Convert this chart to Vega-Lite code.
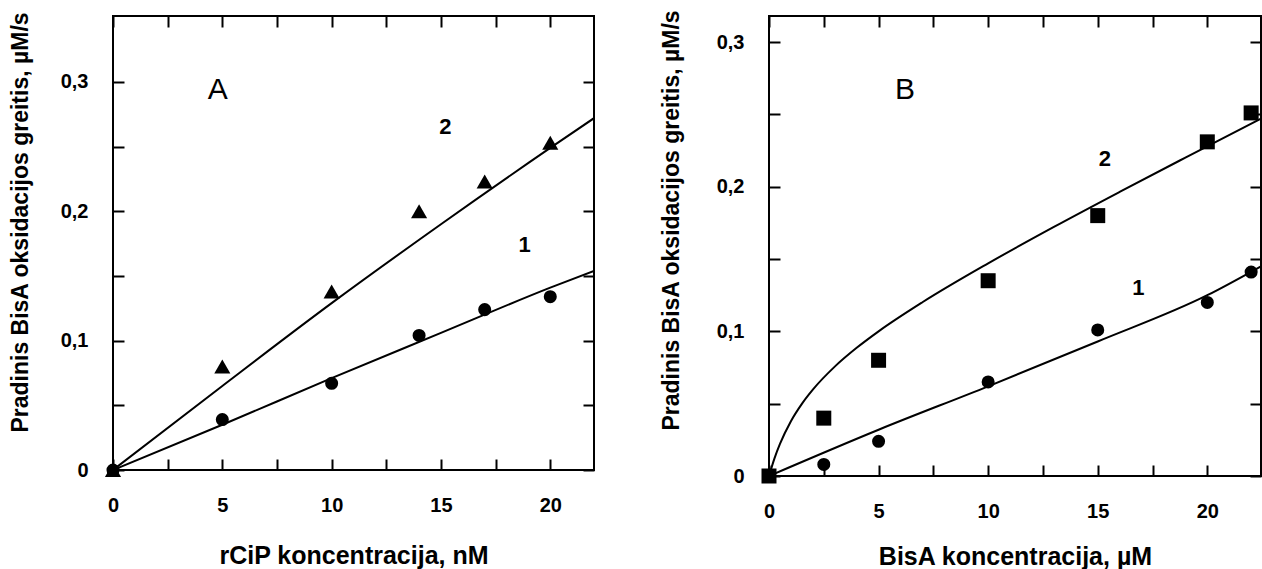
{
  "$schema": "https://vega.github.io/schema/vega-lite/v6.json",
  "padding": {"left": 7, "top": 8, "right": 0, "bottom": 0},
  "spacing": 62,
  "resolve": {"scale": {"shape": "independent", "size": "independent"}},
  "config": {
    "font": "Liberation Sans",
    "view": {"stroke": "black", "strokeWidth": 2},
    "axis": {
      "domain": false, "grid": false,
      "tickColor": "black", "tickWidth": 2, "tickSize": -11,
      "labelFont": "Liberation Sans", "labelFontWeight": "bold", "labelFontSize": 20, "labelColor": "black",
      "titleFont": "Liberation Sans", "titleFontWeight": "bold", "titleFontSize": 23, "titleColor": "black",
      "labelFlush": false, "labelOverlap": false, "labelBound": false
    }
  },
  "hconcat": [
    {
      "width": 481, "height": 454,
      "layer": [
        {
          "data": {"values": [
            {"series": "1", "x": 0, "y": 0},
            {"series": "1", "x": 5, "y": 0.035},
            {"series": "1", "x": 10, "y": 0.071},
            {"series": "1", "x": 15, "y": 0.106},
            {"series": "1", "x": 20, "y": 0.141},
            {"series": "1", "x": 22, "y": 0.154},
            {"series": "2", "x": 0, "y": 0},
            {"series": "2", "x": 5, "y": 0.065},
            {"series": "2", "x": 10, "y": 0.129},
            {"series": "2", "x": 15, "y": 0.19},
            {"series": "2", "x": 20, "y": 0.249},
            {"series": "2", "x": 22, "y": 0.272}
          ]},
          "mark": {"type": "line", "color": "black", "strokeWidth": 2, "interpolate": "monotone", "clip": true},
          "encoding": {
            "x": {"field": "x", "type": "quantitative", "scale": {"domain": [0, 22], "nice": false},
              "axis": {"orient": "top", "labels": false, "title": null, "values": [0, 2.5, 5, 7.5, 10, 12.5, 15, 17.5, 20]}},
            "y": {"field": "y", "type": "quantitative", "scale": {"domain": [0, 0.351], "nice": false},
              "axis": {"orient": "right", "labels": false, "title": null, "values": [0, 0.05, 0.1, 0.15, 0.2, 0.25, 0.3]}},
            "detail": {"field": "series"}
          }
        },
        {
          "data": {"values": [
            {"series": "1", "x": 0, "y": 0},
            {"series": "1", "x": 5, "y": 0.039},
            {"series": "1", "x": 10, "y": 0.067},
            {"series": "1", "x": 14, "y": 0.104},
            {"series": "1", "x": 17, "y": 0.124},
            {"series": "1", "x": 20, "y": 0.134},
            {"series": "2", "x": 0, "y": 0},
            {"series": "2", "x": 5, "y": 0.080},
            {"series": "2", "x": 10, "y": 0.138},
            {"series": "2", "x": 14, "y": 0.200},
            {"series": "2", "x": 17, "y": 0.223},
            {"series": "2", "x": 20, "y": 0.253}
          ]},
          "mark": {"type": "point", "filled": true, "opacity": 1, "color": "black"},
          "encoding": {
            "x": {"field": "x", "type": "quantitative",
              "axis": {"orient": "bottom", "title": "rCiP koncentracija, nM", "values": [0, 2.5, 5, 7.5, 10, 12.5, 15, 17.5, 20],
                "labelExpr": "datum.value % 5 == 0 ? format(datum.value, 'd') : ''",
                "labelPadding": 36, "titleFontSize": 25, "titleY": 85, "titleBaseline": "middle"}},
            "y": {"field": "y", "type": "quantitative",
              "axis": {"orient": "left", "title": "Pradinis BisA oksidacijos greitis, µM/s", "values": [0, 0.05, 0.1, 0.15, 0.2, 0.25, 0.3],
                "labelExpr": "datum.value == 0 ? '0' : (abs(datum.value*10 - round(datum.value*10)) < 0.001 ? replace(format(datum.value, '.1f'), '.', ',') : '')",
                "labelPadding": 36, "titleX": -93, "titleY": 206, "titleBaseline": "middle", "titleAnchor": null, "titleAlign": "center", "titleAngle": -90}},
            "shape": {"field": "series", "type": "nominal", "scale": {"domain": ["1", "2"], "range": ["circle", "triangle-up"]}, "legend": null},
            "size": {"field": "series", "type": "ordinal", "scale": {"domain": ["1", "2"], "range": [170, 260]}, "legend": null}
          }
        },
        {
          "data": {"values": [{"t": "A", "x": 4.79, "y": 0.294}]},
          "mark": {"type": "text", "fontSize": 30, "font": "Liberation Sans", "color": "black", "baseline": "middle", "align": "center"},
          "encoding": {
            "x": {"field": "x", "type": "quantitative", "axis": null},
            "y": {"field": "y", "type": "quantitative", "axis": null},
            "text": {"field": "t"}
          }
        },
        {
          "data": {"values": [{"t": "2", "x": 15.2, "y": 0.265}, {"t": "1", "x": 18.83, "y": 0.174}]},
          "mark": {"type": "text", "fontSize": 22, "fontWeight": "bold", "font": "Liberation Sans", "color": "black", "baseline": "middle", "align": "center"},
          "encoding": {
            "x": {"field": "x", "type": "quantitative", "axis": null},
            "y": {"field": "y", "type": "quantitative", "axis": null},
            "text": {"field": "t"}
          }
        }
      ],
      "resolve": {"axis": {"x": "independent", "y": "independent"}}
    },
    {
      "width": 492, "height": 460,
      "layer": [
        {
          "data": {"values": [
            {"series": "1", "x": 0, "y": 0},
            {"series": "1", "x": 5, "y": 0.032},
            {"series": "1", "x": 10, "y": 0.062},
            {"series": "1", "x": 15, "y": 0.093},
            {"series": "1", "x": 20, "y": 0.125},
            {"series": "1", "x": 22.45, "y": 0.145},
            {"series": "2", "x": 0, "y": 0},
            {"series": "2", "x": 0.25, "y": 0.0122},
            {"series": "2", "x": 0.5, "y": 0.0222},
            {"series": "2", "x": 1, "y": 0.0379},
            {"series": "2", "x": 1.5, "y": 0.0499},
            {"series": "2", "x": 2, "y": 0.0597},
            {"series": "2", "x": 3, "y": 0.0756},
            {"series": "2", "x": 4, "y": 0.0886},
            {"series": "2", "x": 5, "y": 0.1},
            {"series": "2", "x": 7, "y": 0.1201},
            {"series": "2", "x": 10, "y": 0.147},
            {"series": "2", "x": 13, "y": 0.1722},
            {"series": "2", "x": 16, "y": 0.1964},
            {"series": "2", "x": 19, "y": 0.2201},
            {"series": "2", "x": 22.45, "y": 0.2471}
          ]},
          "mark": {"type": "line", "color": "black", "strokeWidth": 2, "interpolate": "monotone", "clip": true},
          "encoding": {
            "x": {"field": "x", "type": "quantitative", "scale": {"domain": [0, 22.45], "nice": false},
              "axis": {"orient": "top", "labels": false, "title": null, "values": [0, 2.5, 5, 7.5, 10, 12.5, 15, 17.5, 20]}},
            "y": {"field": "y", "type": "quantitative", "scale": {"domain": [0, 0.318], "nice": false},
              "axis": {"orient": "right", "labels": false, "title": null, "values": [0, 0.05, 0.1, 0.15, 0.2, 0.25, 0.3]}},
            "detail": {"field": "series"}
          }
        },
        {
          "data": {"values": [
            {"series": "1", "x": 0, "y": 0},
            {"series": "1", "x": 2.5, "y": 0.008},
            {"series": "1", "x": 5, "y": 0.024},
            {"series": "1", "x": 10, "y": 0.065},
            {"series": "1", "x": 15, "y": 0.101},
            {"series": "1", "x": 20, "y": 0.120},
            {"series": "1", "x": 22, "y": 0.141},
            {"series": "2", "x": 0, "y": 0},
            {"series": "2", "x": 2.5, "y": 0.040},
            {"series": "2", "x": 5, "y": 0.080},
            {"series": "2", "x": 10, "y": 0.135},
            {"series": "2", "x": 15, "y": 0.180},
            {"series": "2", "x": 20, "y": 0.231},
            {"series": "2", "x": 22, "y": 0.251}
          ]},
          "mark": {"type": "point", "filled": true, "opacity": 1, "color": "black"},
          "encoding": {
            "x": {"field": "x", "type": "quantitative",
              "axis": {"orient": "bottom", "title": "BisA koncentracija, µM", "values": [0, 2.5, 5, 7.5, 10, 12.5, 15, 17.5, 20],
                "labelExpr": "datum.value % 5 == 0 ? format(datum.value, 'd') : ''",
                "labelPadding": 36, "titleFontSize": 25, "titleY": 80, "titleBaseline": "middle"}},
            "y": {"field": "y", "type": "quantitative",
              "axis": {"orient": "left", "title": "Pradinis BisA oksidacijos greitis, µM/s", "values": [0, 0.05, 0.1, 0.15, 0.2, 0.25, 0.3],
                "labelExpr": "datum.value == 0 ? '0' : (abs(datum.value*10 - round(datum.value*10)) < 0.001 ? replace(format(datum.value, '.1f'), '.', ',') : '')",
                "labelPadding": 36, "titleX": -98, "titleY": 204, "titleBaseline": "middle", "titleAnchor": null, "titleAlign": "center", "titleAngle": -90}},
            "shape": {"field": "series", "type": "nominal", "scale": {"domain": ["1", "2"], "range": ["circle", "square"]}, "legend": null},
            "size": {"field": "series", "type": "ordinal", "scale": {"domain": ["1", "2"], "range": [170, 225]}, "legend": null}
          }
        },
        {
          "data": {"values": [{"t": "B", "x": 6.2, "y": 0.267}]},
          "mark": {"type": "text", "fontSize": 30, "font": "Liberation Sans", "color": "black", "baseline": "middle", "align": "center"},
          "encoding": {
            "x": {"field": "x", "type": "quantitative", "axis": null},
            "y": {"field": "y", "type": "quantitative", "axis": null},
            "text": {"field": "t"}
          }
        },
        {
          "data": {"values": [{"t": "2", "x": 15.33, "y": 0.219}, {"t": "1", "x": 16.85, "y": 0.130}]},
          "mark": {"type": "text", "fontSize": 22, "fontWeight": "bold", "font": "Liberation Sans", "color": "black", "baseline": "middle", "align": "center"},
          "encoding": {
            "x": {"field": "x", "type": "quantitative", "axis": null},
            "y": {"field": "y", "type": "quantitative", "axis": null},
            "text": {"field": "t"}
          }
        }
      ],
      "resolve": {"axis": {"x": "independent", "y": "independent"}}
    }
  ]
}
